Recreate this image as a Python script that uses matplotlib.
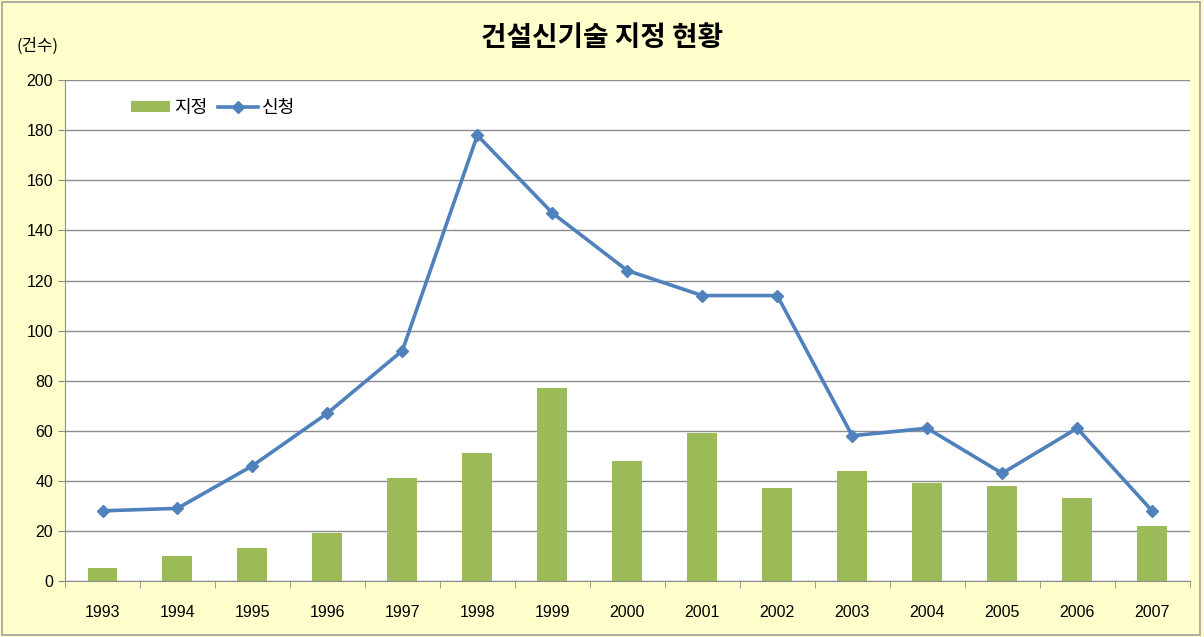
import matplotlib.pyplot as plt
import numpy as np
from matplotlib.patches import Rectangle

plt.rcParams['font.family'] = ['Noto Sans CJK KR', 'DejaVu Sans']

years = ['1993', '1994', '1995', '1996', '1997', '1998', '1999', '2000',
         '2001', '2002', '2003', '2004', '2005', '2006', '2007']
designated = [5, 10, 13, 19, 41, 51, 77, 48, 59, 37, 44, 39, 38, 33, 22]
applied = [28, 29, 46, 67, 92, 178, 147, 124, 114, 114, 58, 61, 43, 61, 28]

bar_color = '#9BBB59'
line_color = '#4F81BD'
bg_color = '#FFFFCC'

fig = plt.figure(figsize=(12.04, 6.37), dpi=100, facecolor=bg_color)
fig.patches.append(Rectangle((0.002, 0.003), 0.995, 0.994, transform=fig.transFigure,
                             fill=False, edgecolor='#A0A0A0', linewidth=1.2))
ax = fig.add_axes([0.054, 0.088, 0.934, 0.786])

x = np.arange(len(years))
bars = ax.bar(x, designated, width=0.4, color=bar_color, label='지정', zorder=2)
line, = ax.plot(x, applied, color=line_color, linewidth=2.6, marker='D', markersize=6,
                label='신청', zorder=3)

ax.set_xlim(-0.5, len(years) - 0.5)
ax.set_ylim(0, 200)
ax.set_yticks(range(0, 201, 20))
ax.yaxis.grid(True, color='#8C8C8C', linewidth=1.0)
ax.set_axisbelow(True)

ax.set_xticks(x)
ax.set_xticklabels(years, fontsize=11.5, family='Liberation Sans')
for lbl in ax.get_yticklabels():
    lbl.set_family('Liberation Sans')
ax.set_xticks(np.arange(-0.5, len(years)), minor=True)
ax.tick_params(axis='x', which='major', length=0, pad=17)
ax.tick_params(axis='x', which='minor', length=5, color='#8C8C8C')
ax.tick_params(axis='y', length=5, color='#8C8C8C', labelsize=11.5)

for side in ['top', 'right']:
    ax.spines[side].set_visible(False)
for side in ['left', 'bottom']:
    ax.spines[side].set_color('#8C8C8C')

ax.legend([bars, line], ['지정', '신청'], loc='upper left', bbox_to_anchor=(0.044, 0.995),
          frameon=False, ncol=2, fontsize=13, handlelength=2.2, columnspacing=0.6,
          handletextpad=0.2, handleheight=0.5)

fig.text(0.5, 0.94, '건설신기술 지정 현황', ha='center', va='center',
         fontsize=20, fontweight='bold')
fig.text(0.014, 0.928, '(건수)', ha='left', va='center', fontsize=12)

fig.savefig('out.png', dpi=100, facecolor=bg_color)
